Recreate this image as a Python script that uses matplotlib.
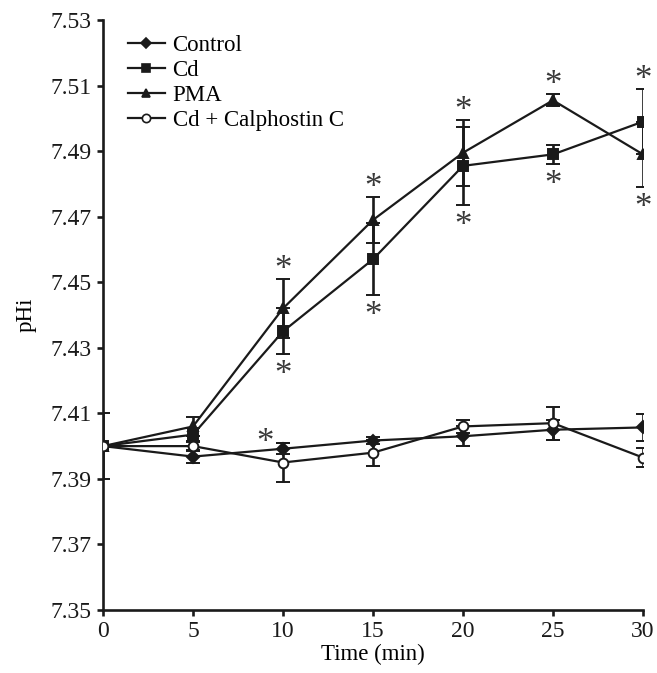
import matplotlib
matplotlib.use("Agg")
import matplotlib.pyplot as plt
from matplotlib.lines import Line2D
import numpy as np

time = [0, 5, 10, 15, 20, 25, 30]

control = [7.400, 7.3968, 7.3992, 7.4017, 7.4030, 7.4050, 7.4057]
control_err = [0.010, 0.0018, 0.0016, 0.0012, 0.003, 0.003, 0.004]

cd = [7.400, 7.4035, 7.4350, 7.4570, 7.4855, 7.4890, 7.4990]
cd_err = [0.0, 0.002, 0.007, 0.011, 0.012, 0.003, 0.010]

pma = [7.400, 7.4060, 7.4420, 7.4690, 7.4895, 7.5055, 7.4890]
pma_err = [0.0, 0.003, 0.009, 0.007, 0.010, 0.0018, 0.010]

calph = [7.400, 7.4000, 7.3950, 7.3980, 7.4060, 7.4070, 7.3965]
calph_err = [0.0, 0.0012, 0.006, 0.004, 0.002, 0.005, 0.003]

labels = ["Control", "Cd", "PMA", "Cd + Calphostin C"]
yticks = [7.35, 7.37, 7.39, 7.41, 7.43, 7.45, 7.47, 7.49, 7.51, 7.53]

plt.rcParams['font.family'] = ['Liberation Serif', 'DejaVu Serif']

fig = plt.figure(figsize=(6.57, 6.73), dpi=100)
ax = fig.add_axes([103/657, 1-610/673, (643-103)/657, (610-20)/673])

lw = 1.6
col = '#1a1a1a'
ekw = dict(elinewidth=1.9, capsize=4.7, capthick=1.9, ecolor=col)

series = [
    (control, control_err, 'D', 6, col),
    (cd, cd_err, 's', 7, col),
    (pma, pma_err, '^', 7.5, col),
    (calph, calph_err, 'o', 7, 'white'),
]
handles = []
for (vals, errs, mk, ms, fc), lab in zip(series, labels):
    ax.errorbar(time, vals, yerr=errs, color=col, lw=lw, marker=mk, ms=ms,
                mfc=fc, mec=col, mew=1.4, zorder=4 if fc == 'white' else 3,
                **ekw)
    handles.append(Line2D([], [], color=col, lw=lw, marker=mk,
                          ms=ms * 0.85, mfc=fc, mec=col, mew=1.2, label=lab))

ast_kw = dict(textcoords='offset points', ha='center', va='baseline',
              fontsize=25, color='#3a3a3a', family=['Liberation Serif'])

for i, t in enumerate(time):
    if t < 10:
        continue
    top = max(pma[i] + pma_err[i], cd[i] + cd_err[i])
    bot = min(pma[i] - pma_err[i], cd[i] - cd_err[i])
    ax.annotate('*', (t, top), xytext=(0, 0), **ast_kw)
    ax.annotate('*', (t, bot), xytext=(0, -21.5), **ast_kw)
ax.annotate('*', (10, control[2]), xytext=(-13, -2), **ast_kw)

ax.set_xlim(0, 30)
ax.set_ylim(7.35, 7.53)
ax.set_xticks(time)
ax.set_yticks(yticks)
ax.set_yticklabels([f"{v:.2f}" for v in yticks])
ax.spines['top'].set_visible(False)
ax.spines['right'].set_visible(False)
for s in ['left', 'bottom']:
    ax.spines[s].set_linewidth(1.9)
    ax.spines[s].set_color(col)
ax.tick_params(direction='out', length=4, width=1.9, labelsize=17, colors=col,
               pad=4)
ax.set_xlabel("Time (min)", fontsize=16.5, labelpad=1)
ax.set_ylabel("pHi", fontsize=16.5, labelpad=10)

leg = ax.legend(handles=handles, loc='upper left', bbox_to_anchor=(0.0, 1.0),
                frameon=False, fontsize=16.5, handlelength=1.6,
                handletextpad=0.35, labelspacing=0.18, borderaxespad=0.3,
                borderpad=0.0)
leg.set_bbox_to_anchor((18/540, 1.0 - 8/590), transform=ax.transAxes)

fig.savefig("out.png", dpi=100)
